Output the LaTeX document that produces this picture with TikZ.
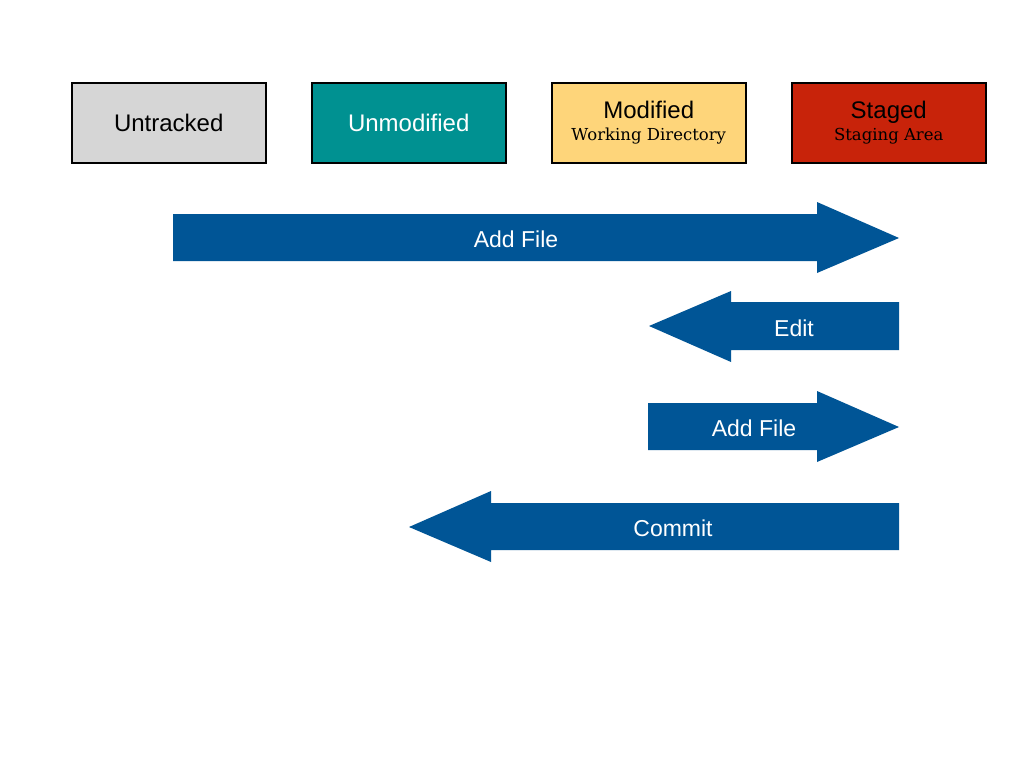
\documentclass[tikz,border=0pt]{standalone}
\usepackage{fontspec}
\setmainfont{Liberation Sans}
\newfontfamily\subfont{DejaVu Serif}
\definecolor{arrowblue}{HTML}{005596}
\definecolor{cgray}{HTML}{D6D6D6}
\definecolor{cteal}{HTML}{009191}
\definecolor{cyellow}{HTML}{FED57A}
\definecolor{cred}{HTML}{C8230A}
\begin{document}
\begin{tikzpicture}[x=1pt,y=-1pt,
  statebox/.style={draw=black,line width=1.5pt,minimum width=194pt,minimum height=80pt,inner sep=0pt,anchor=north west,font=\fontsize{24}{26}\selectfont,align=center},
  arrowshape/.style={fill=arrowblue,draw=none},
  arrowlabel/.style={text=white,font=\fontsize{23}{26}\selectfont}]
\useasboundingbox (0,0) rectangle (1024,768);
\fill[white] (0,0) rectangle (1024,768);
\node[statebox,fill=cgray] (untracked) at (71,82) {Untracked};
\node[statebox,fill=cteal,text=white] (unmodified) at (311,82) {Unmodified};
\node[statebox,fill=cyellow] (modified) at (551,82) {Modified\\[-4pt]{\subfont\fontsize{16.5}{18}\selectfont Working Directory}};
\node[statebox,fill=cred] (staged) at (791,82) {Staged\\[-4pt]{\subfont\fontsize{16.5}{18}\selectfont Staging Area}};
% Add File (long)
\fill[arrowshape] (173,214) -- (817,214) -- (817,202) -- (899,238) -- (817,273) -- (817,261) -- (173,261) -- cycle;
\node[arrowlabel] (a1) at (516,239) {Add File};
% Edit
\fill[arrowshape] (899,302) -- (731,302) -- (731,291) -- (649,326) -- (731,362) -- (731,350) -- (899,350) -- cycle;
\node[arrowlabel] (a2) at (794,328) {Edit};
% Add File (short)
\fill[arrowshape] (648,403) -- (817,403) -- (817,391) -- (899,427) -- (817,462) -- (817,450) -- (648,450) -- cycle;
\node[arrowlabel] (a3) at (754,428) {Add File};
% Commit
\fill[arrowshape] (899,503) -- (491,503) -- (491,491) -- (409,527) -- (491,562) -- (491,550) -- (899,550) -- cycle;
\node[arrowlabel] (a4) at (673,528) {Commit};
\end{tikzpicture}
\end{document}
